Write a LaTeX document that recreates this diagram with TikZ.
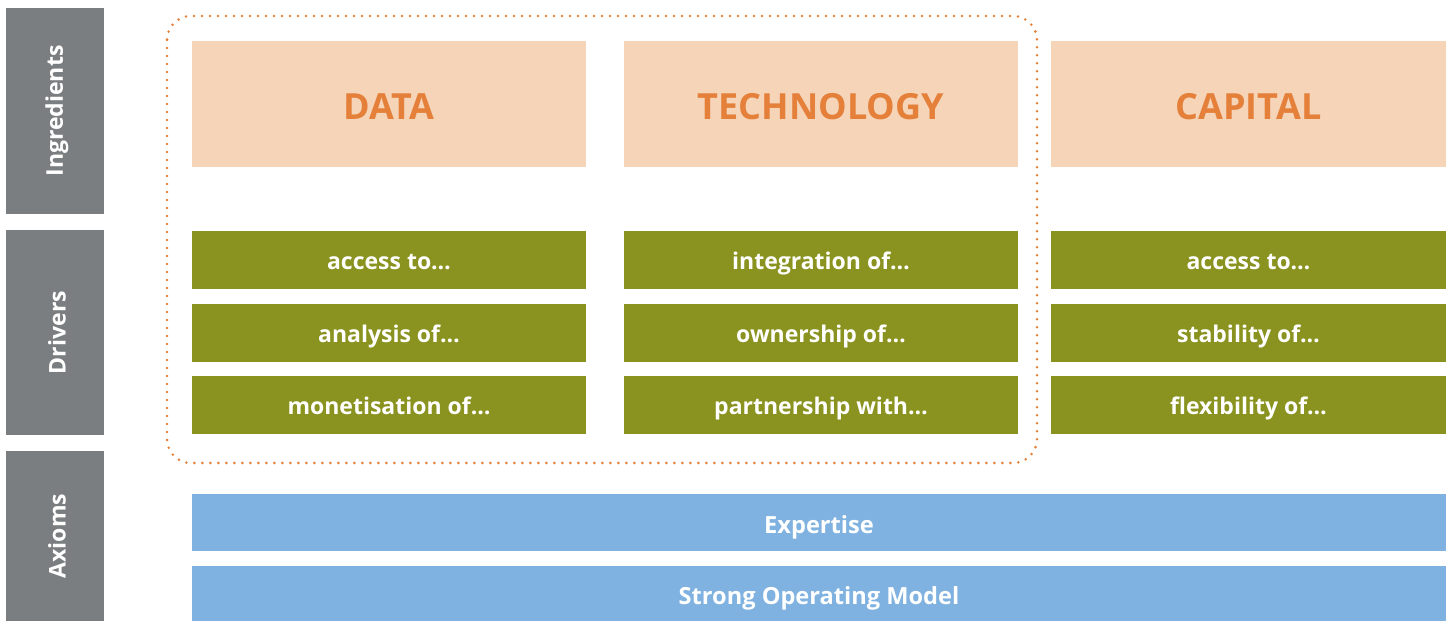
\documentclass[tikz,border=0pt]{standalone}
\usepackage{fontspec}
\setmainfont{Open Sans}
\definecolor{sidegray}{HTML}{7B7E80}
\definecolor{peach}{HTML}{F5D4B8}
\definecolor{orangetxt}{HTML}{E5803A}
\definecolor{olive}{HTML}{8A931F}
\definecolor{skyblue}{HTML}{7FB2E0}
\tikzset{
  base/.style={anchor=north west, inner sep=0pt, outer sep=0pt, font=\bfseries, text=white},
  sidebox/.style={base, fill=sidegray, minimum width=49pt},
  sidelabel/.style={rotate=90, text=white, font=\bfseries\fontsize{11.5}{13}\selectfont},
  ingredient/.style={base, fill=peach, text=orangetxt, minimum height=63pt,
    text height=15pt, text depth=0pt, font=\bfseries\fontsize{18}{20}\selectfont},
  driver/.style={base, fill=olive, minimum height=29pt,
    text height=9pt, text depth=0pt, font=\bfseries\fontsize{11.5}{13}\selectfont},
  axiom/.style={base, fill=skyblue, minimum width=627pt,
    text height=10.8pt, text depth=0pt, font=\bfseries\fontsize{11.8}{13}\selectfont},
  grouping/.style={draw=orangetxt, line width=1.4pt, line cap=round, dash pattern=on 0pt off 4pt, rounded corners=12pt},
}
\begin{document}
\begin{tikzpicture}[x=0.5pt, y=-0.5pt]
\useasboundingbox (0,0) rectangle (1446,621);

% row labels on the left
\node[sidebox, minimum height=103pt] (ing) at (6,8) {};
\node[sidelabel] (ingl) at ([xshift=1pt]ing.center) {Ingredients};
\node[sidebox, minimum height=102.5pt] (drv) at (6,230) {};
\node[sidelabel] (drvl) at ([xshift=1pt]drv.center) {Drivers};
\node[sidebox, minimum height=85pt] (axm) at (6,451) {};
\node[sidelabel] (axml) at ([xshift=1pt]axm.center) {Axioms};

% ingredients
\node[ingredient, minimum width=197pt] (data) at (192,41) {DATA};
\node[ingredient, minimum width=197pt] (tech) at (624,41) {TECHNOLOGY};
\node[ingredient, minimum width=197.5pt] (cap) at (1051,41) {CAPITAL};

% drivers of each ingredient
\node[driver, minimum width=197pt] (d1) at (192,231) {access to…};
\node[driver, minimum width=197pt] (d2) at (192,304) {analysis of…};
\node[driver, minimum width=197pt] (d3) at (192,376) {monetisation of…};
\node[driver, minimum width=197pt] (t1) at (624,231) {integration of…};
\node[driver, minimum width=197pt] (t2) at (624,304) {ownership of…};
\node[driver, minimum width=197pt] (t3) at (624,376) {partnership with…};
\node[driver, minimum width=197.5pt] (c1) at (1051,231) {access to…};
\node[driver, minimum width=197.5pt] (c2) at (1051,304) {stability of…};
\node[driver, minimum width=197.5pt] (c3) at (1051,376) {flexibility of…};

% axioms
\node[axiom, minimum height=28.5pt] (exp) at (192,494) {Expertise};
\node[axiom, minimum height=27.5pt] (som) at (192,566) {Strong Operating Model};

% dotted frame around data and technology
\draw[grouping] (167,16) rectangle (1037,463);
\end{tikzpicture}
\end{document}
